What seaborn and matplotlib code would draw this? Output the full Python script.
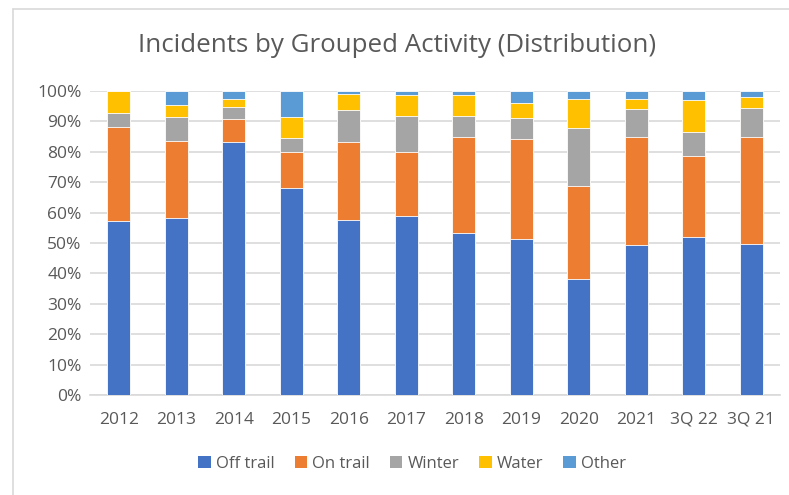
import numpy as np
import pandas as pd
import matplotlib
matplotlib.use("Agg")
import matplotlib.pyplot as plt
from matplotlib.lines import Line2D
from matplotlib.patches import Patch
import seaborn as sns

# data (percent of incidents per period)
periods = ["2012", "2013", "2014", "2015", "2016", "2017",
           "2018", "2019", "2020", "2021", "3Q 22", "3Q 21"]
off_trail = [57.3, 58.3, 83.3, 68.1, 57.7, 59.0, 53.4, 51.3, 38.0, 49.5, 51.9, 49.8]
on_trail = [31.0, 25.4, 7.6, 11.7, 25.6, 21.0, 31.6, 32.8, 30.9, 35.3, 26.7, 35.0]
winter = [4.6, 7.7, 3.8, 4.7, 10.3, 11.7, 6.9, 7.1, 19.0, 9.2, 7.8, 9.7]
water = [7.1, 3.9, 2.7, 7.1, 5.5, 6.9, 6.7, 4.7, 9.6, 3.4, 10.7, 3.6]
other = [0.0, 4.7, 2.6, 8.4, 0.9, 1.4, 1.4, 4.1, 2.5, 2.6, 2.9, 1.9]

series = ["Off trail", "On trail", "Winter", "Water", "Other"]
colors = ["#4472C4", "#ED7D31", "#A5A5A5", "#FFC000", "#5B9BD5"]

df = pd.DataFrame({"period": periods, "Off trail": off_trail, "On trail": on_trail,
                   "Winter": winter, "Water": water, "Other": other})
# normalise each period to 100 %
vals = df[series].to_numpy()
vals = vals / vals.sum(axis=1, keepdims=True) * 100
cum = np.cumsum(vals, axis=1)

sns.set_style("white")
plt.rcParams["font.family"] = ["Open Sans", "DejaVu Sans"]
text_col = "#595959"

fig = plt.figure(figsize=(7.89, 4.95), dpi=100)
ax = fig.add_axes([90 / 789, 100 / 495, 690 / 789, 304 / 495])

# draw cumulative totals from the top down so each layer covers the one above it
for i in range(len(series) - 1, -1, -1):
    sns.barplot(x=df["period"], y=cum[:, i], color=colors[i], width=0.4,
                saturation=1, edgecolor="white", linewidth=0.6, ax=ax, zorder=3)

ax.set_ylim(0, 100)
ax.set_xlim(-0.5, len(periods) - 0.5)
ax.set_yticks(np.arange(0, 101, 10))
ax.set_yticklabels([f"{t}%" for t in range(0, 101, 10)])
ax.yaxis.grid(True, color="#D9D9D9", linewidth=1.2, zorder=0)
ax.set_axisbelow(True)
for s in ["top", "right", "left"]:
    ax.spines[s].set_visible(False)
ax.spines["bottom"].set_color("#D9D9D9")
ax.spines["bottom"].set_linewidth(1.2)
ax.tick_params(axis="both", length=0, labelsize=12.5, labelcolor=text_col)
ax.tick_params(axis="x", pad=12)
ax.tick_params(axis="y", pad=6)
ax.set_xlabel("")
ax.set_ylabel("")

fig.text(397 / 789, 1 - 45 / 495, "Incidents by Grouped Activity (Distribution)",
         ha="center", va="center", fontsize=18.6, color=text_col)

handles = [Patch(facecolor=c, edgecolor="none") for c in colors]
fig.legend(handles, series, loc="center", bbox_to_anchor=(412 / 789, 1 - 464 / 495),
           ncol=5, frameon=False, fontsize=12, labelcolor=text_col,
           handlelength=0.75, handleheight=0.75, handletextpad=0.3, columnspacing=1.2)

# chart-area border
fig.add_artist(Line2D([13 / 789, 13 / 789], [0, 1 - 9 / 495], color="#D9D9D9", lw=1.2))
fig.add_artist(Line2D([13 / 789, 1], [1 - 9 / 495, 1 - 9 / 495], color="#D9D9D9", lw=1.2))

fig.savefig("out.png", dpi=100)
